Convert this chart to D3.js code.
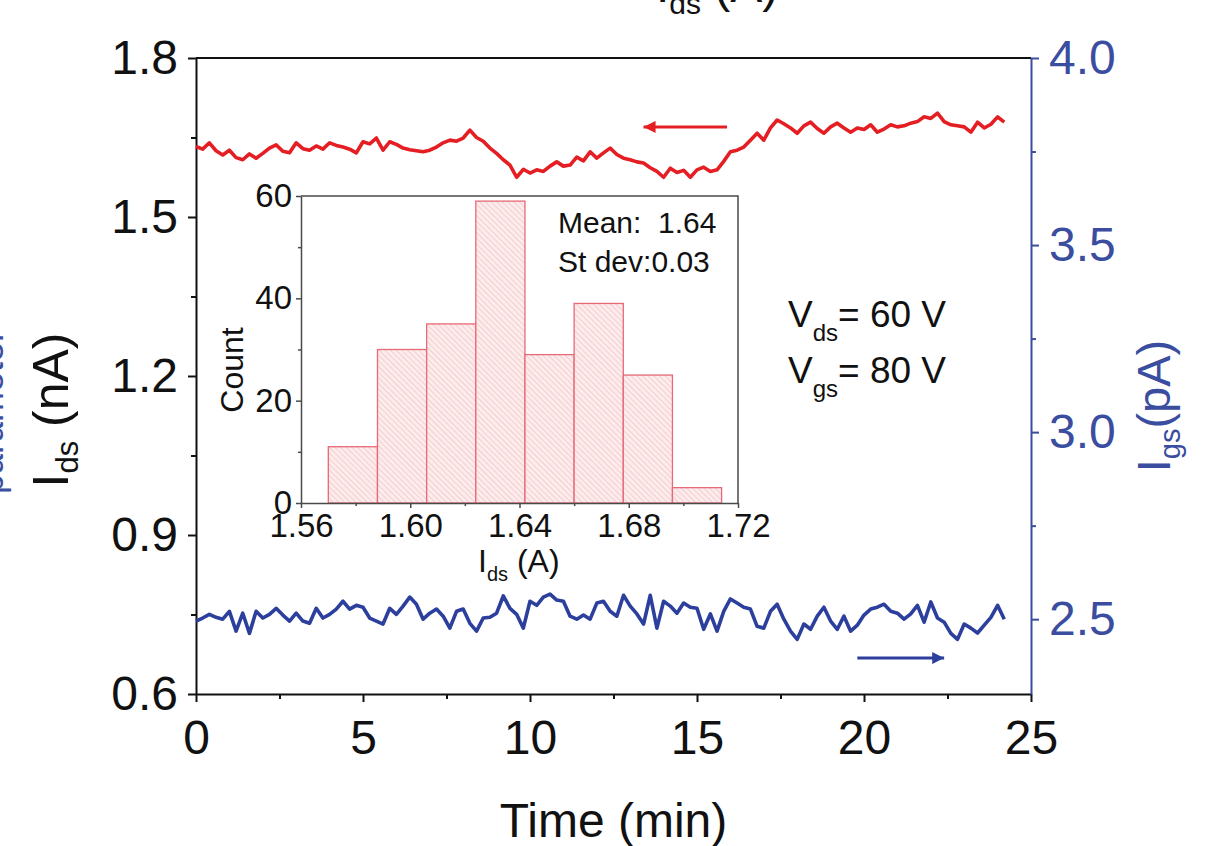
<!DOCTYPE html>
<html>
<head>
<meta charset="utf-8">
<script src="https://cdn.jsdelivr.net/npm/d3@7"></script>
<style>
  body { margin: 0; background: #fff; }
  svg text { font-family: "Liberation Sans", Arial, Helvetica, sans-serif; }
</style>
</head>
<body>
<div id="chart"></div>
<script>
// ---- data ----
const timeStep = 0.2; // min between samples

const idsValues = [ // nA, left axis
  1.633, 1.628, 1.640, 1.625, 1.617, 1.626, 1.612, 1.608, 1.619, 1.611,
  1.620, 1.630, 1.636, 1.624, 1.621, 1.640, 1.629, 1.626, 1.634, 1.628,
  1.640, 1.635, 1.632, 1.628, 1.621, 1.642, 1.638, 1.649, 1.626, 1.642,
  1.637, 1.630, 1.627, 1.625, 1.623, 1.626, 1.632, 1.640, 1.645, 1.643,
  1.649, 1.664, 1.650, 1.643, 1.630, 1.620, 1.608, 1.598, 1.575, 1.590,
  1.583, 1.589, 1.586, 1.596, 1.604, 1.596, 1.598, 1.613, 1.606, 1.623,
  1.611, 1.621, 1.630, 1.618, 1.611, 1.608, 1.604, 1.602, 1.593, 1.586,
  1.575, 1.592, 1.584, 1.588, 1.575, 1.589, 1.594, 1.586, 1.589, 1.605,
  1.623, 1.626, 1.632, 1.645, 1.658, 1.645, 1.668, 1.683, 1.676, 1.668,
  1.658, 1.672, 1.679, 1.667, 1.658, 1.670, 1.677, 1.668, 1.660, 1.668,
  1.665, 1.674, 1.660, 1.666, 1.674, 1.670, 1.672, 1.677, 1.680, 1.689,
  1.686, 1.696, 1.680, 1.674, 1.672, 1.670, 1.660, 1.679, 1.668, 1.675,
  1.689, 1.679
];

const igsValues = [ // pA, right axis
  2.495, 2.503, 2.513, 2.505, 2.500, 2.521, 2.468, 2.516, 2.462, 2.521,
  2.503, 2.513, 2.529, 2.511, 2.495, 2.516, 2.495, 2.489, 2.529, 2.503,
  2.513, 2.527, 2.548, 2.527, 2.537, 2.532, 2.503, 2.495, 2.487, 2.529,
  2.513, 2.535, 2.559, 2.540, 2.500, 2.516, 2.527, 2.508, 2.476, 2.521,
  2.527, 2.489, 2.468, 2.503, 2.505, 2.516, 2.562, 2.529, 2.513, 2.476,
  2.548, 2.537, 2.559, 2.567, 2.551, 2.548, 2.508, 2.500, 2.511, 2.500,
  2.543, 2.548, 2.521, 2.508, 2.564, 2.535, 2.514, 2.487, 2.564, 2.476,
  2.548, 2.535, 2.516, 2.543, 2.532, 2.529, 2.473, 2.514, 2.468, 2.521,
  2.554, 2.543, 2.532, 2.527, 2.481, 2.476, 2.521, 2.540, 2.500, 2.468,
  2.446, 2.487, 2.473, 2.508, 2.532, 2.495, 2.473, 2.508, 2.468, 2.484,
  2.511, 2.527, 2.532, 2.540, 2.521, 2.516, 2.500, 2.514, 2.537, 2.492,
  2.546, 2.503, 2.492, 2.462, 2.446, 2.487, 2.476, 2.463, 2.484, 2.505,
  2.537, 2.500
];

// inset histogram
const binEdges = [1.570, 1.588, 1.606, 1.624, 1.642, 1.660, 1.678, 1.696, 1.714];
const binCounts = [11, 30, 35, 59, 29, 39, 25, 3];

// ticks
const timeTicks = [0, 5, 10, 15, 20, 25];
const timeMinor = [2.5, 7.5, 12.5, 17.5, 22.5];
const idsTicks = [0.6, 0.9, 1.2, 1.5, 1.8];
const idsMinor = [0.75, 1.05, 1.35, 1.65];
const igsTicks = [2.5, 3.0, 3.5, 4.0];
const igsMinor = [2.75, 3.25, 3.75];
const histXTicks = [1.56, 1.60, 1.64, 1.68, 1.72];
const histXMinor = [1.58, 1.62, 1.66, 1.70];
const histYTicks = [0, 20, 40, 60];
const histYMinor = [10, 30, 50];

// direction arrows (data units)
const idsArrow = {t0: 15.9, t1: 13.4, v: 1.670};
const igsArrow = {t0: 19.8, t1: 22.4, v: 2.396};

// ---- drawing ----
const width = 1215, height = 846;
const red = "#e41e22", blue = "#2c3f9c", blueText = "#3a4d9f";

const svg = d3.select("#chart").append("svg")
  .attr("width", width).attr("height", height);

const defs = svg.append("defs");
const hatch = defs.append("pattern")
  .attr("id", "hatch").attr("patternUnits", "userSpaceOnUse")
  .attr("width", 4).attr("height", 4)
  .attr("patternTransform", "rotate(-45)");
hatch.append("rect").attr("width", 4).attr("height", 4).attr("fill", "#fcecec");
hatch.append("line").attr("x1", 0).attr("y1", 0).attr("x2", 0).attr("y2", 4)
  .attr("stroke", "#f1b9be").attr("stroke-width", 1.2);

function arrowMarker(id, color) {
  defs.append("marker").attr("id", id)
    .attr("viewBox", "0 0 10 10").attr("refX", 10).attr("refY", 5)
    .attr("markerWidth", 5).attr("markerHeight", 4).attr("markerUnits", "strokeWidth")
    .attr("orient", "auto")
    .append("path").attr("d", "M0,0 L10,5 L0,10 z").attr("fill", color);
}
arrowMarker("arrRed", red);
arrowMarker("arrBlue", blue);

const plot = {left: 196, right: 1031, top: 58, bottom: 694};

const x = d3.scaleLinear().domain([0, 25]).range([plot.left, plot.right]);
const yL = d3.scaleLinear().domain([0.6, 1.8]).range([plot.bottom, plot.top]);
const yR = d3.scaleLinear().domain([2.3, 4.0]).range([plot.bottom, plot.top]);

function styleAxis(g, color, fontSize, width) {
  g.select(".domain").attr("stroke", color).attr("stroke-width", width);
  g.selectAll(".tick line").attr("stroke", color).attr("stroke-width", width);
  g.selectAll("text").attr("fill", color).style("font-size", fontSize + "px");
}

// bottom axis
const xAxis = svg.append("g").attr("transform", `translate(0,${plot.bottom})`)
  .call(d3.axisBottom(x).tickValues(timeTicks).tickFormat(d3.format("d"))
    .tickSize(8).tickPadding(18).tickSizeOuter(0));
styleAxis(xAxis, "#111", 48, 2);
svg.append("g").attr("transform", `translate(0,${plot.bottom})`)
  .call(d3.axisBottom(x).tickValues(timeMinor).tickFormat("").tickSize(5).tickSizeOuter(0))
  .call(g => { g.select(".domain").remove(); g.selectAll("line").attr("stroke", "#111").attr("stroke-width", 2); });

// top frame line
svg.append("line").attr("x1", plot.left).attr("x2", plot.right)
  .attr("y1", plot.top).attr("y2", plot.top).attr("stroke", "#111").attr("stroke-width", 2);

// left axis
const leftAxis = svg.append("g").attr("transform", `translate(${plot.left},0)`)
  .call(d3.axisLeft(yL).tickValues(idsTicks).tickFormat(d3.format(".1f"))
    .tickSize(8).tickPadding(10).tickSizeOuter(0));
styleAxis(leftAxis, "#111", 48, 2);
svg.append("g").attr("transform", `translate(${plot.left},0)`)
  .call(d3.axisLeft(yL).tickValues(idsMinor).tickFormat("").tickSize(5).tickSizeOuter(0))
  .call(g => { g.select(".domain").remove(); g.selectAll("line").attr("stroke", "#111").attr("stroke-width", 2); });

// right axis
const rightAxis = svg.append("g").attr("transform", `translate(${plot.right},0)`)
  .call(d3.axisRight(yR).tickValues(igsTicks).tickFormat(d3.format(".1f"))
    .tickSize(8).tickPadding(10).tickSizeOuter(0));
styleAxis(rightAxis, blueText, 48, 2);
svg.append("g").attr("transform", `translate(${plot.right},0)`)
  .call(d3.axisRight(yR).tickValues(igsMinor).tickFormat("").tickSize(5).tickSizeOuter(0))
  .call(g => { g.select(".domain").remove(); g.selectAll("line").attr("stroke", blueText).attr("stroke-width", 2); });

// lines
const lineIds = d3.line().x((d, i) => x(i * timeStep)).y(d => yL(d));
const lineIgs = d3.line().x((d, i) => x(i * timeStep)).y(d => yR(d));

svg.append("path").datum(idsValues).attr("d", lineIds)
  .attr("fill", "none").attr("stroke", red).attr("stroke-width", 3.6).attr("stroke-linejoin", "round");
svg.append("path").datum(igsValues).attr("d", lineIgs)
  .attr("fill", "none").attr("stroke", blue).attr("stroke-width", 3.6).attr("stroke-linejoin", "round");

// arrows
svg.append("line")
  .attr("x1", x(idsArrow.t0)).attr("x2", x(idsArrow.t1))
  .attr("y1", yL(idsArrow.v)).attr("y2", yL(idsArrow.v))
  .attr("stroke", red).attr("stroke-width", 3).attr("marker-end", "url(#arrRed)");
svg.append("line")
  .attr("x1", x(igsArrow.t0)).attr("x2", x(igsArrow.t1))
  .attr("y1", yR(igsArrow.v)).attr("y2", yR(igsArrow.v))
  .attr("stroke", blue).attr("stroke-width", 3).attr("marker-end", "url(#arrBlue)");

// axis titles
svg.append("text").attr("x", (plot.left + plot.right) / 2).attr("y", 837)
  .attr("text-anchor", "middle").style("font-size", "48px").attr("fill", "#111")
  .text("Time (min)");

const yTitle = svg.append("text")
  .attr("transform", "translate(68,410) rotate(-90)")
  .attr("text-anchor", "middle").style("font-size", "50px").attr("fill", "#111");
yTitle.append("tspan").text("I");
yTitle.append("tspan").attr("dy", 10).style("font-size", "31px").text("ds");
yTitle.append("tspan").attr("dy", -10).text(" (nA)");

const rTitle = svg.append("text")
  .attr("transform", "translate(1170,406) rotate(-90)")
  .attr("text-anchor", "middle").style("font-size", "47px").attr("fill", blueText);
rTitle.append("tspan").text("I");
rTitle.append("tspan").attr("dy", 10).style("font-size", "29px").text("gs");
rTitle.append("tspan").attr("dy", -10).text("(pA)");

// clipped labels at the page edges (from neighbouring panels)
svg.append("text").attr("transform", "translate(3,412) rotate(-90)")
  .attr("text-anchor", "middle").style("font-size", "36px").attr("fill", blueText)
  .text("parameter");
const topCut = svg.append("text").attr("x", 656).attr("y", 2)
  .style("font-size", "48px").attr("fill", "#111");
topCut.append("tspan").text("I");
topCut.append("tspan").attr("dy", 12).style("font-size", "30px").text("ds");
topCut.append("tspan").attr("dy", -12).text(" (A)");

// bias annotation
[["ds", "= 60 V", 327], ["gs", "= 80 V", 383]].forEach(([sub, rest, yb]) => {
  const t = svg.append("text").attr("x", 788).attr("y", yb)
    .style("font-size", "37px").attr("fill", "#111");
  t.append("tspan").text("V");
  t.append("tspan").attr("dy", 14).style("font-size", "24px").text(sub);
  t.append("tspan").attr("dy", -14).text(rest);
});

// ---- inset histogram ----
const xi = d3.scaleLinear().domain([1.56, 1.72]).range([301, 738]);
const yi = d3.scaleLinear().domain([0, 60]).range([503, 196]);
const gray = "#4a4a4a";

const inset = svg.append("g");
inset.selectAll("rect.bar")
  .data(binCounts)
  .enter()
  .append("rect")
    .attr("class", "bar")
    .attr("x", (d, i) => xi(binEdges[i]))
    .attr("y", d => yi(d))
    .attr("width", (d, i) => xi(binEdges[i + 1]) - xi(binEdges[i]))
    .attr("height", d => yi(0) - yi(d))
    .attr("fill", "url(#hatch)")
    .attr("stroke", "#e66a78").attr("stroke-width", 1.3);

// inset frame
inset.append("path")
  .attr("d", `M${xi(1.56)},${yi(60)} H${xi(1.72)} V${yi(0)}`)
  .attr("fill", "none").attr("stroke", gray).attr("stroke-width", 1.5);

const ixAxis = inset.append("g").attr("transform", `translate(0,${yi(0)})`)
  .call(d3.axisBottom(xi).tickValues(histXTicks).tickFormat(d3.format(".2f"))
    .tickSize(5).tickPadding(6).tickSizeOuter(0));
styleAxis(ixAxis, gray, 33, 1.5);
ixAxis.selectAll("text").attr("fill", "#111");
inset.append("g").attr("transform", `translate(0,${yi(0)})`)
  .call(d3.axisBottom(xi).tickValues(histXMinor).tickFormat("").tickSize(3).tickSizeOuter(0))
  .call(g => { g.select(".domain").remove(); g.selectAll("line").attr("stroke", gray).attr("stroke-width", 1.5); });

const iyAxis = inset.append("g").attr("transform", `translate(${xi(1.56)},0)`)
  .call(d3.axisLeft(yi).tickValues(histYTicks).tickFormat(d3.format("d"))
    .tickSize(5).tickPadding(4).tickSizeOuter(0));
styleAxis(iyAxis, gray, 33, 1.5);
iyAxis.selectAll("text").attr("fill", "#111");
inset.append("g").attr("transform", `translate(${xi(1.56)},0)`)
  .call(d3.axisLeft(yi).tickValues(histYMinor).tickFormat("").tickSize(3).tickSizeOuter(0))
  .call(g => { g.select(".domain").remove(); g.selectAll("line").attr("stroke", gray).attr("stroke-width", 1.5); });

inset.append("text").attr("transform", "translate(243,370) rotate(-90)")
  .attr("text-anchor", "middle").style("font-size", "32px").attr("fill", "#111")
  .text("Count");

const ixTitle = inset.append("text").attr("x", 478).attr("y", 572)
  .style("font-size", "32px").attr("fill", "#111");
ixTitle.append("tspan").text("I");
ixTitle.append("tspan").attr("dy", 9).style("font-size", "20px").text("ds");
ixTitle.append("tspan").attr("dy", -9).text(" (A)");

inset.append("text").attr("x", 558).attr("y", 233)
  .style("font-size", "30px").attr("fill", "#111").style("white-space", "pre")
  .text("Mean:  1.64");
inset.append("text").attr("x", 558).attr("y", 272)
  .style("font-size", "30px").attr("fill", "#111")
  .text("St dev:0.03");
</script>
</body>
</html>
